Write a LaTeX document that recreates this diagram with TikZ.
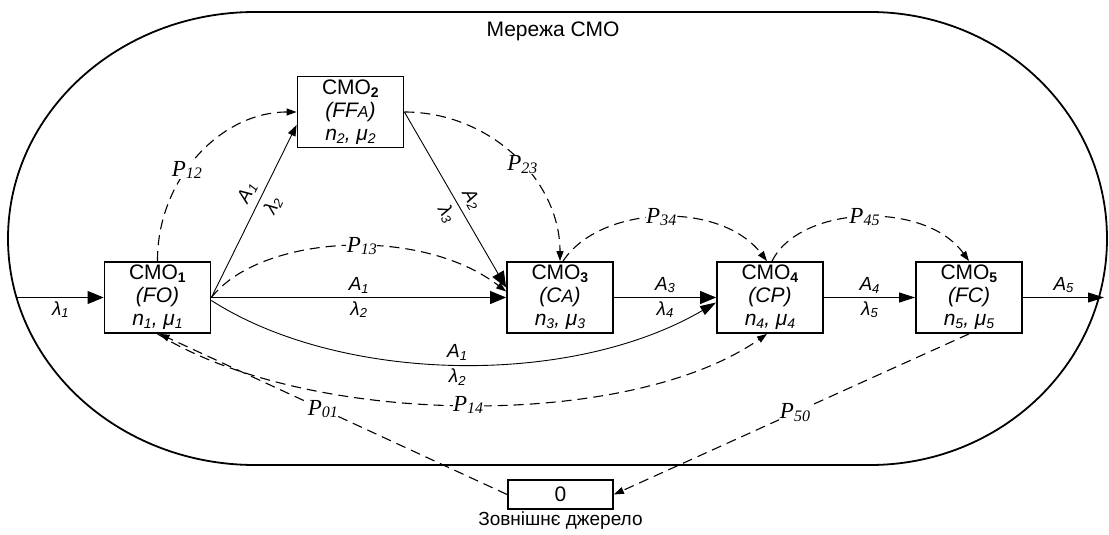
\documentclass[tikz,border=0pt]{standalone}
\usepackage{fontspec}
\setmainfont{Liberation Sans}
\newfontfamily\serfont{Liberation Serif}
\usetikzlibrary{arrows.meta}
\newcommand{\ds}[1]{\raisebox{-0.15em}{\fontsize{14}{14}\selectfont #1}}
\newcommand{\ls}[1]{\raisebox{-0.12em}{\fontsize{13}{13}\selectfont #1}}
\newcommand{\ps}[1]{\raisebox{-0.1em}{\fontsize{16}{16}\selectfont #1}}
\begin{document}
\begin{tikzpicture}[x=1pt,y=-1pt,
 cbox/.style={draw, line width=1.8pt, minimum width=106pt, minimum height=71pt, inner sep=0pt, align=center, font=\fontsize{21}{23}\selectfont},
 lab/.style={font=\fontsize{19}{19}\selectfont\itshape, inner sep=1pt},
 plab/.style={font=\serfont\itshape\fontsize{23}{23}\selectfont, fill=white, inner sep=0.5pt},
 flow/.style={line width=0.9pt, -{Triangle[length=16pt,width=13pt]}},
 flowm/.style={line width=0.9pt, -{Triangle[length=16pt,width=10pt]}},
 flows/.style={line width=0.9pt, -{Triangle[length=11pt,width=8pt]}},
 prob/.style={line width=1.1pt, dash pattern=on 10pt off 6pt, -{Triangle[length=10pt,width=7pt]}}
]
\useasboundingbox (0,0) rectangle (1109,535);
% network outline
\draw[line width=1.8pt] (255,12) -- (870,12) arc[start angle=-90,end angle=90,x radius=237,y radius=226.5] -- (255,465) arc[start angle=90,end angle=270,x radius=247,y radius=226.5] -- cycle;
\node[font=\fontsize{21}{21}\selectfont] (net) at (553,31) {Мережа СМО};

% nodes
\node[cbox] (c1) at (157.5,297.5) {СМО\textbf{\ds{1}}\\\textit{(FO)}\\\textit{n\ds{1}, μ\ds{1}}};
\node[cbox] (c2) at (350.5,112) {СМО\textbf{\ds{2}}\\\textit{(FF{\fontsize{16}{16}\selectfont A})}\\\textit{n\ds{2}, μ\ds{2}}};
\node[cbox] (c3) at (560,297.5) {СМО\textbf{\ds{3}}\\\textit{(C{\fontsize{18}{18}\selectfont A})}\\\textit{n\ds{3}, μ\ds{3}}};
\node[cbox] (c4) at (770,297.5) {СМО\textbf{\ds{4}}\\\textit{(CP)}\\\textit{n\ds{4}, μ\ds{4}}};
\node[cbox] (c5) at (969,297.5) {СМО\textbf{\ds{5}}\\\textit{(FC)}\\\textit{n\ds{5}, μ\ds{5}}};
\node[draw, line width=1.8pt, minimum width=105pt, minimum height=29pt, inner sep=0pt, font=\fontsize{21}{21}\selectfont] (z) at (560.5,494.5) {0};
\node[font=\fontsize{19}{19}\selectfont] (zl) at (560.5,521) {Зовнішнє джерело};

\coordinate (in) at (17,297.5);
\coordinate (out) at (1104,297.5);

% flows
\draw[flow] (in) -- node[lab,below=3pt]{λ\ls{1}} (c1.west);
\draw[flow] (c1.east) -- node[lab,above=3pt]{A\ls{1}} node[lab,below=3pt]{λ\ls{2}} (c3.west);
\draw[flows] (c1.east) -- node[lab,sloped,above=5pt,pos=0.57]{A\ls{1}} node[lab,sloped,below=5pt,pos=0.57]{λ\ls{2}} ([yshift=-13pt]c2.west);
\draw[flow] (c2.east) -- node[lab,sloped,above=5pt,pos=0.54]{A\ls{2}} node[lab,sloped,below=5pt,pos=0.54]{λ\ls{3}} ([yshift=10pt]c3.west);
\draw[flow] (c3.east) -- node[lab,above=3pt]{A\ls{3}} node[lab,below=3pt]{λ\ls{4}} (c4.west);
\draw[flowm] ([yshift=-3pt]c1.east) .. controls (340,383) and (570,388) .. ([yshift=-5pt]c4.west) node[lab,above=3pt,pos=0.5]{A\ls{1}} node[lab,below=3pt,pos=0.5]{λ\ls{2}};
\draw[flowm] (c4.east) -- node[lab,above=3pt]{A\ls{4}} node[lab,below=3pt]{λ\ls{5}} (c5.west);
\draw[flowm] (c5.east) -- node[lab,above=3pt]{A\ls{5}} (out);

% transition probabilities
\draw[prob] (c1.north) .. controls (157,180) and (220,112) .. (c2.west) node[plab,pos=0.42]{P\ps{12}};
\draw[prob] (c1.east) .. controls (260,235) and (420,225) .. ([yshift=6pt]c3.west) node[plab,pos=0.55]{P\ps{13}};
\draw[prob] (c2.east) .. controls (490,112) and (560,180) .. (c3.north) node[plab,pos=0.55]{P\ps{23}};
\draw[prob] ([xshift=3pt]c3.north) .. controls (600,205) and (720,200) .. ([xshift=-3pt]c4.north) node[plab,pos=0.5]{P\ps{34}};
\draw[prob] ([xshift=2pt]c4.north) .. controls (800,205) and (925,200) .. (c5.north) node[plab,pos=0.5]{P\ps{45}};
\draw[prob] (c1.south) .. controls (310,428) and (630,430) .. ([xshift=-3pt]c4.south) node[plab,pos=0.5]{P\ps{14}};
\draw[prob] (z.west) -- node[plab,pos=0.53]{P\ps{01}} ([xshift=2pt]c1.south);
\draw[prob] (c5.south) -- node[plab,pos=0.49]{P\ps{50}} (z.east);
\end{tikzpicture}
\end{document}
